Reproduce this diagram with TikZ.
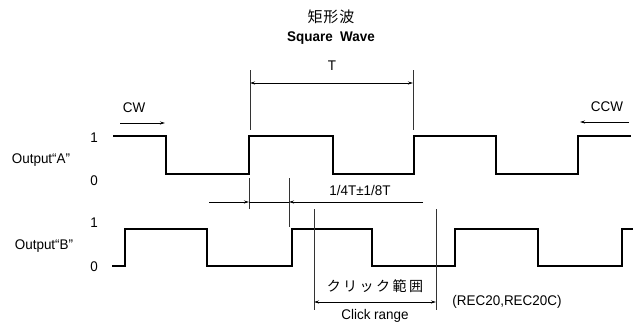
\documentclass[tikz,border=0pt]{standalone}
\usepackage{fontspec}
\setmainfont[FakeStretch=0.96]{Liberation Sans}
\newfontfamily\jpfont{Noto Sans CJK JP}
\usetikzlibrary{arrows.meta}
\tikzset{
  lbl/.style={inner sep=0pt, font=\fontsize{14}{16}\selectfont},
  jlbl/.style={inner sep=0pt, font=\jpfont\fontsize{14}{16}\selectfont},
  wave/.style={line width=2.4pt, line join=miter},
  dimline/.style={line width=0.8pt},
  ext/.style={line width=0.9pt, draw=black!80},
  tip/.style={-{Stealth[length=5pt,width=3pt]}},
  tips/.style={{Stealth[length=5pt,width=3pt]}-{Stealth[length=5pt,width=3pt]}},
}
\begin{document}
\begin{tikzpicture}[x=1pt,y=-1pt]
\useasboundingbox (0,0) rectangle (633,324);

% titles
\node[jlbl, font=\jpfont\fontsize{15}{17}\selectfont] (title) at (331,17) {矩\hspace{1pt}形\hspace{1pt}波};
\node[lbl, font=\bfseries\fontsize{14}{16}\selectfont] (sub) at (331,38) {Square~~Wave};

% row labels
\node[lbl] (outA) at (41,160) {Output“A”};
\node[lbl] (a1) at (94,138) {1};
\node[lbl] (a0) at (94,181) {0};
\node[lbl] (outB) at (44,246) {Output“B”};
\node[lbl] (b1) at (94,223) {1};
\node[lbl] (b0) at (94,267) {0};

% waveforms
\draw[wave] (113,136) -- (166,136) -- (166,174) -- (249,174) -- (249,136) -- (333,136) -- (333,174) -- (414,174) -- (414,136) -- (496,136) -- (496,174) -- (578,174) -- (578,136) -- (631,136);
\draw[wave] (112,266) -- (125,266) -- (125,229) -- (207,229) -- (207,266) -- (292,266) -- (292,229) -- (372,229) -- (372,266) -- (455,266) -- (455,229) -- (538,229) -- (538,266) -- (622,266) -- (622,229) -- (634,229);

% CW / CCW
\node[lbl] (cw) at (134,108) {CW};
\coordinate (cwS) at (120,123);
\coordinate (cwE) at (165,123);
\draw[dimline, tip] (cwS) -- (cwE);
\node[lbl] (ccw) at (607,107) {CCW};
\coordinate (ccwS) at (629,122);
\coordinate (ccwE) at (580,122);
\draw[dimline, tip] (ccwS) -- (ccwE);

% T dimension
\coordinate (t1a) at (250,70);
\coordinate (t1b) at (250,130);
\coordinate (t2a) at (413,70);
\coordinate (t2b) at (413,130);
\draw[ext] (t1a) -- (t1b);
\draw[ext] (t2a) -- (t2b);
\coordinate (tL) at (250,83);
\coordinate (tR) at (413,83);
\draw[dimline, tips] (tL) -- (tR);
\node[lbl] (T) at (332,66) {T};

% phase dimension
\coordinate (p1a) at (249,178);
\coordinate (p1b) at (249,209);
\coordinate (p2a) at (289,178);
\coordinate (p2b) at (289,227);
\draw[ext] (p1a) -- (p1b);
\draw[ext] (p2a) -- (p2b);
\coordinate (pS) at (209,202);
\coordinate (pM1) at (249,202);
\coordinate (pM2) at (289,202);
\coordinate (pE) at (423,202);
\draw[dimline, tip] (pS) -- (pM1);
\draw[dimline] (pM1) -- (pM2);
\draw[dimline, tip] (pE) -- (pM2);
\node[lbl] (phase) at (360,190) {1/4T±1/8T};

% click range
\coordinate (c1a) at (314,209);
\coordinate (c1b) at (314,310);
\coordinate (c2a) at (436,209);
\coordinate (c2b) at (436,310);
\draw[ext] (c1a) -- (c1b);
\draw[ext] (c2a) -- (c2b);
\coordinate (cL) at (314,302);
\coordinate (cR) at (436,302);
\draw[dimline, tips] (cL) -- (cR);
\node[jlbl] (clickjp) at (375,286) {ク\hspace{2.5pt}リ\hspace{2.5pt}ッ\hspace{2.5pt}ク\hspace{2.5pt}範\hspace{2.5pt}囲};
\node[lbl] (clicken) at (375,316) {Click range};
\node[lbl] (rec) at (507,302) {(REC20,REC20C)};
\end{tikzpicture}
\end{document}
